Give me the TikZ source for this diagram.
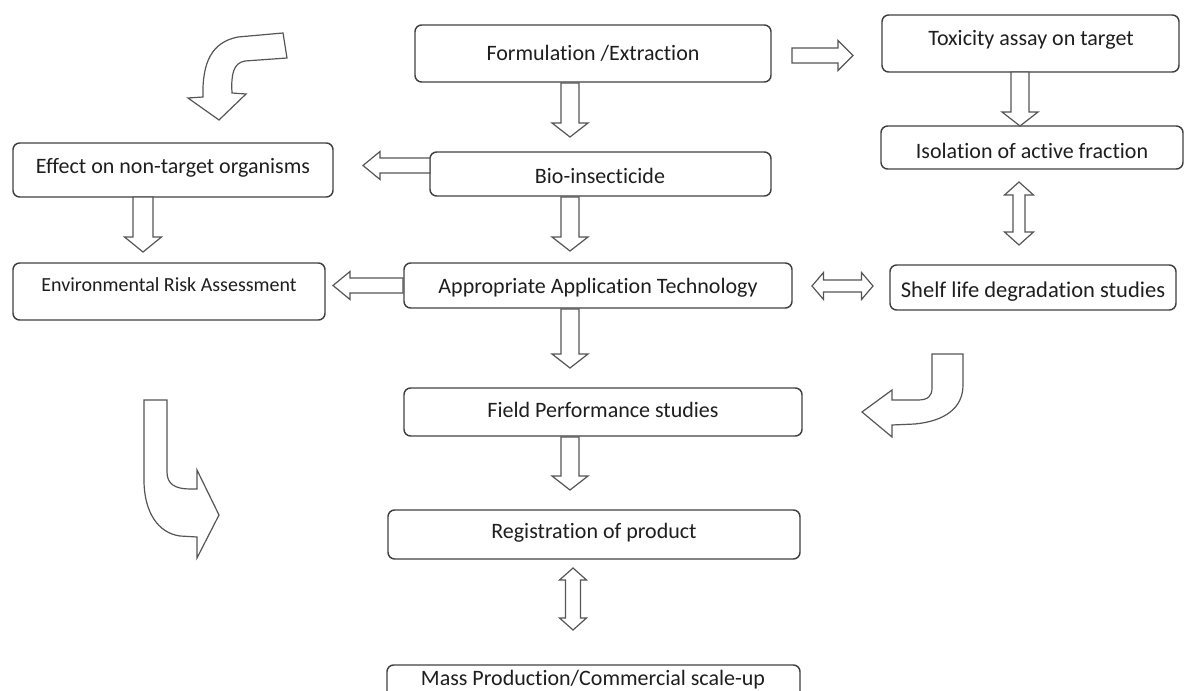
\documentclass[tikz,border=0pt]{standalone}
\usepackage{fontspec}
\setmainfont{Carlito}[Ligatures=NoCommon]
\definecolor{boxc}{RGB}{64,64,64}
\definecolor{arrc}{RGB}{85,85,85}
\definecolor{txtc}{RGB}{30,30,30}
\newcommand\blkdown[6]{\draw[blk] ({#1-#4},#2) -- ({#1-#4},{#3-#6}) -- ({#1-#5},{#3-#6}) -- (#1,#3) -- ({#1+#5},{#3-#6}) -- ({#1+#4},{#3-#6}) -- ({#1+#4},#2) -- cycle;}
\newcommand\blkleft[6]{\draw[blk] (#2,{#3-#4}) -- ({#1+#6},{#3-#4}) -- ({#1+#6},{#3-#5}) -- (#1,#3) -- ({#1+#6},{#3+#5}) -- ({#1+#6},{#3+#4}) -- (#2,{#3+#4}) -- cycle;}
\newcommand\blkright[6]{\draw[blk] (#1,{#3-#4}) -- ({#2-#6},{#3-#4}) -- ({#2-#6},{#3-#5}) -- (#2,#3) -- ({#2-#6},{#3+#5}) -- ({#2-#6},{#3+#4}) -- (#1,{#3+#4}) -- cycle;}
\newcommand\blkvv[6]{\draw[blk] (#1,#2) -- ({#1+#5},{#2+#6}) -- ({#1+#4},{#2+#6}) -- ({#1+#4},{#3-#6}) -- ({#1+#5},{#3-#6}) -- (#1,#3) -- ({#1-#5},{#3-#6}) -- ({#1-#4},{#3-#6}) -- ({#1-#4},{#2+#6}) -- ({#1-#5},{#2+#6}) -- cycle;}
\newcommand\blkhh[6]{\draw[blk] (#1,#3) -- ({#1+#6},{#3-#5}) -- ({#1+#6},{#3-#4}) -- ({#2-#6},{#3-#4}) -- ({#2-#6},{#3-#5}) -- (#2,#3) -- ({#2-#6},{#3+#5}) -- ({#2-#6},{#3+#4}) -- ({#1+#6},{#3+#4}) -- ({#1+#6},{#3+#5}) -- cycle;}
\begin{document}
\begin{tikzpicture}[x=0.75pt,y=-0.75pt,
  box/.style 2 args={draw=boxc, line width=1.1pt, rounded corners=5pt, minimum width=#1*0.75pt, minimum height=#2*0.75pt, inner sep=0pt, outer sep=0pt},
  txt/.style={text=txtc, font=\fontsize{16.5pt}{18pt}\selectfont, inner sep=0pt},
  blk/.style={draw=arrc, line width=0.9pt, fill=white, line join=miter}]
\useasboundingbox (0,0) rectangle (1189,691);
% boxes
\node[box={356}{57}] (form) at (593,53.5) {};
\node[box={297}{57}] (tox) at (1030.5,43.5) {};
\node[box={302}{43}] (iso) at (1032,147.5) {};
\node[box={320}{54}] (eff) at (173,170) {};
\node[box={341}{44}] (bio) at (600.5,174) {};
\node[box={312}{57}] (era) at (169,291.5) {};
\node[box={388}{45}] (aat) at (598,285.5) {};
\node[box={286}{45}] (shelf) at (1033,287.5) {};
\node[box={398}{48}] (field) at (603,412) {};
\node[box={412}{49}] (reg) at (594,534.5) {};
\node[box={413}{60}] (mass) at (593.5,695) {};
% texts
\node[txt] (formT) at (593,53) {Formulation /Extraction};
\node[txt] (toxT) at (1031,40) {Toxicity assay on target};
\node[txt] (isoT) at (1032,151) {Isolation of active fraction};
\node[txt] (effT) at (173,168) {Effect on non-target organisms};
\node[txt] (bioT) at (600,176) {Bio-insecticide};
\node[txt, font=\fontsize{15pt}{17pt}\selectfont] (eraT) at (169,285) {Environmental Risk Assessment};
\node[txt] (aatT) at (598,288) {Appropriate Application Technology};
\node[txt, font=\fontsize{16.9pt}{18pt}\selectfont] (shelfT) at (1033,292) {Shelf life degradation studies};
\node[txt] (fieldT) at (603,410) {Field Performance studies};
\node[txt] (regT) at (594,533) {Registration of product};
\node[txt] (massT) at (593,680) {Mass Production/Commercial scale-up};
% block arrows
\blkdown{570}{83}{137}{9}{18}{14}
\blkdown{1020}{72}{126}{9}{18}{14}
\blkdown{143}{197}{252}{10}{18.5}{15}
\blkdown{570}{197}{251}{9}{18}{14}
\blkdown{570}{309}{368}{9}{18}{14}
\blkdown{570}{437}{490}{9}{18}{14}
\blkvv{573}{568}{630}{7.5}{13.5}{12}
\blkvv{1019}{182}{245}{6}{14.5}{13}
\blkhh{812}{873}{286}{6}{13.5}{11.5}
\blkright{792}{853}{55.5}{7.5}{15}{15}
\blkleft{363}{430}{165.5}{7.5}{14}{17}
\blkleft{333}{403}{285.5}{7.5}{14}{17}
% curved arrows
\draw[blk] (283,33) -- (238,37) .. controls (212,42) and (202,62) .. (203,97)
  -- (188,98) -- (219,120) -- (246,94) -- (232,93)
  .. controls (231,75) and (233,63) .. (245,61) -- (287,58) -- cycle;
\draw[blk] (932,354) -- (932,388) .. controls (932,396) and (928,400) .. (918,400)
  -- (892,400) -- (892,390) -- (862,412) -- (892,437) -- (892,425) -- (915,424)
  .. controls (945,421) and (963,408) .. (963,385) -- (963,354) -- cycle;
\draw[blk] (144,400) -- (167,400) -- (167,472) .. controls (167,484) and (175,489) .. (190,489)
  -- (197,489) -- (197,470) -- (219,515) -- (197,558) -- (197,537) -- (180,536)
  .. controls (158,533) and (144,512) .. (144,480) -- cycle;
\end{tikzpicture}
\end{document}
